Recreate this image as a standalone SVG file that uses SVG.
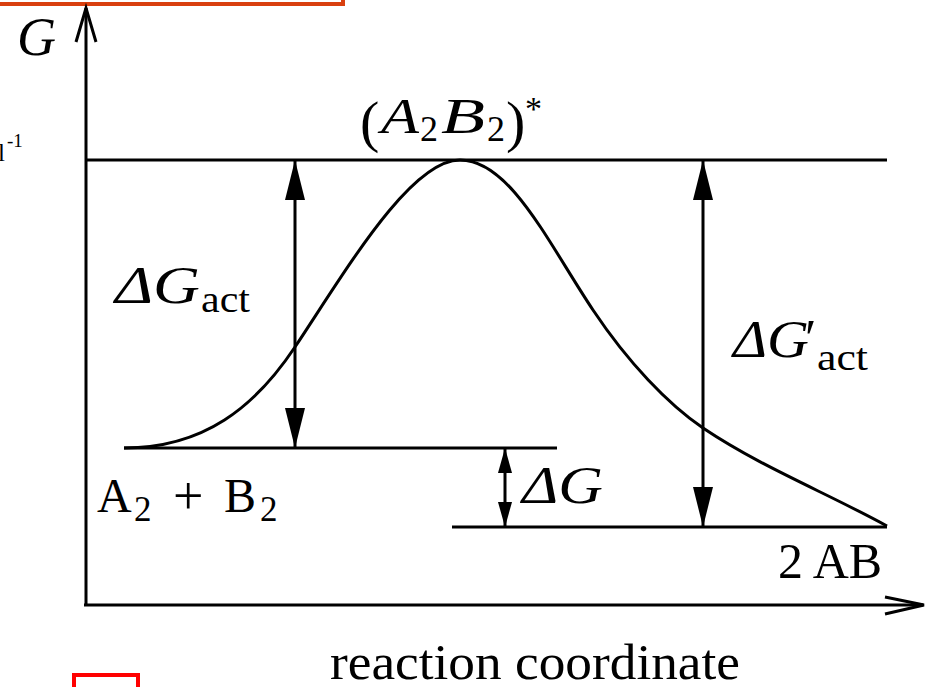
<svg xmlns="http://www.w3.org/2000/svg" width="929" height="687" viewBox="0 0 929 687">
<style>
  .ln { stroke:#000; stroke-width:3; fill:none; }
  .ax { stroke:#000; stroke-width:3; fill:none; stroke-linejoin:miter; }
  .tx { font-family:"Liberation Serif","DejaVu Serif",serif; fill:#000; }
  .it { font-style:italic; }
  .arr { stroke:#000; stroke-width:3; fill:none; marker-start:url(#ah); marker-end:url(#ah); }
  .arrs { stroke:#000; stroke-width:3; fill:none; marker-start:url(#ahs); marker-end:url(#ahs); }
</style>
<defs>
  <marker id="ah" markerUnits="userSpaceOnUse" viewBox="-41 -11 42 22" markerWidth="42" markerHeight="22" refX="0" refY="0" orient="auto-start-reverse">
    <path d="M0,0 L-40,-10 L-40,10 Z" fill="#000"/>
  </marker>
  <marker id="ahs" markerUnits="userSpaceOnUse" viewBox="-26 -8 27 16" markerWidth="27" markerHeight="16" refX="0" refY="0" orient="auto-start-reverse">
    <path d="M0,0 L-25,-7 L-25,7 Z" fill="#000"/>
  </marker>
</defs>
<rect x="0" y="0" width="929" height="687" fill="#fff"/>

<!-- frame fragments -->
<rect x="-20" y="-20" width="363" height="24" fill="none" stroke="#d9400f" stroke-width="4"/>
<rect x="74" y="675" width="64" height="40" fill="none" stroke="#ff0000" stroke-width="4"/>

<g id="axes">
  <path class="ax" d="M86,605 L86,8"/>
  <path class="ax" d="M76,42 L86,8 L96,42"/>
  <path class="ax" d="M84,605 L923,605"/>
  <path class="ax" d="M885,597 L924,605 L885,614"/>
  <text class="tx it" x="17" y="55" font-size="54">G</text>
  <text class="tx" x="-2" y="161" font-size="25">l</text>
  <text class="tx" x="7" y="147" font-size="19">-1</text>
  <text class="tx" x="330" y="679" font-size="50" textLength="410" lengthAdjust="spacingAndGlyphs">reaction coordinate</text>
</g>

<g id="level-transition">
  <path class="ln" d="M86,160 L887,160"/>
  <text class="tx" x="360" y="141" font-size="58">(</text>
  <text class="tx it" x="381" y="133" font-size="50" textLength="38" lengthAdjust="spacingAndGlyphs">A</text>
  <text class="tx" x="420" y="141" font-size="36">2</text>
  <text class="tx it" x="441" y="133" font-size="50" textLength="44" lengthAdjust="spacingAndGlyphs">B</text>
  <text class="tx" x="487" y="141" font-size="36">2</text>
  <text class="tx" x="506" y="141" font-size="58">)</text>
  <text class="tx" x="525" y="120" font-size="34">*</text>
</g>

<g id="level-reactants">
  <path class="ln" d="M124,448 L557,448"/>
  <text class="tx" x="97" y="512" font-size="48">A</text>
  <text class="tx" x="134" y="521" font-size="35">2</text>
  <text class="tx" x="173" y="514" font-size="54">+</text>
  <text class="tx" x="224" y="512" font-size="48">B</text>
  <text class="tx" x="260" y="521" font-size="35">2</text>
</g>

<g id="level-products">
  <path class="ln" d="M452,527 L887,527"/>
  <text class="tx" x="778" y="578" font-size="50">2 AB</text>
</g>

<g id="curve">
  <path class="ln" d="M124,448 C204,448 255,407 295,347 C345,272 410,160 460,160 C510,160 548,242.5 593,310 C628,362.5 668,404 703,428 C761,467 827,493 887,526"/>
</g>

<g id="connectors">
  <path class="arr" d="M295,160 L295,448"/>
  <path class="arr" d="M703,160 L703,527"/>
  <path class="arrs" d="M505,448 L505,527"/>
</g>

<g id="label-dGact">
  <text class="tx it" x="115" y="303" font-size="52" textLength="85" lengthAdjust="spacingAndGlyphs">ΔG</text>
  <text class="tx" x="201" y="312" font-size="38" textLength="49" lengthAdjust="spacingAndGlyphs">act</text>
</g>

<g id="label-dGact-prime">
  <text class="tx it" x="733" y="357" font-size="52" textLength="76" lengthAdjust="spacingAndGlyphs">ΔG</text>
  <text class="tx" x="805" y="356" font-size="52">′</text>
  <text class="tx" x="817" y="370" font-size="38" textLength="51" lengthAdjust="spacingAndGlyphs">act</text>
</g>

<g id="label-dG">
  <text class="tx it" x="522" y="503" font-size="52" textLength="81" lengthAdjust="spacingAndGlyphs">ΔG</text>
</g>
</svg>
